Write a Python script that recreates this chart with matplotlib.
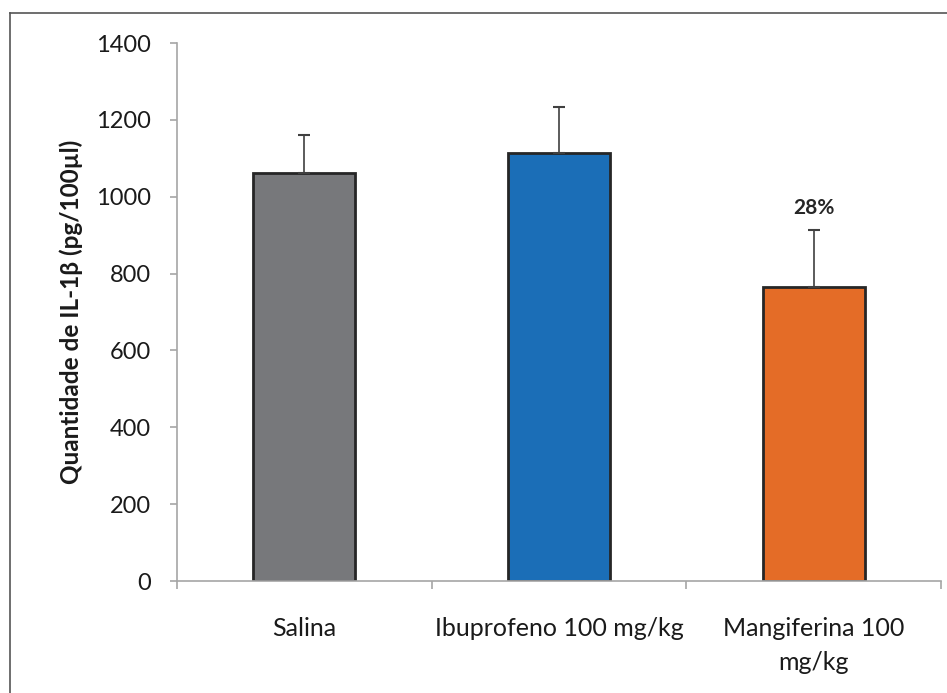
import matplotlib
matplotlib.use("Agg")
import matplotlib.pyplot as plt
from matplotlib.lines import Line2D

categories = ["Salina", "Ibuprofeno 100 mg/kg", "Mangiferina 100\nmg/kg"]
values = [1062, 1115, 764]
errors = [99, 118, 149]
colors = ["#77787b", "#1b6eb7", "#e46c27"]
annotations = ["", "", "28%"]
annot_y = [None, None, 970]
yticks = [0, 200, 400, 600, 800, 1000, 1200, 1400]

plt.rcParams['font.family'] = ['Lato', 'DejaVu Sans']

fig = plt.figure(figsize=(9.47, 6.93), dpi=100)
ax = fig.add_axes([177/947, 1-581/693, (941-177)/947, (581-43)/693])

x = list(range(len(categories)))
ax.bar(x, values, width=0.4, color=colors, edgecolor="#262626", linewidth=2, zorder=2)
ax.errorbar(x, values, yerr=[[0]*len(values), errors], fmt="none",
            ecolor="#404040", elinewidth=1.2, capsize=4, capthick=1.5, zorder=3)
for xi, t, ty in zip(x, annotations, annot_y):
    if t:
        ax.text(xi, ty, t, ha="center", va="center", fontsize=15,
                fontweight="bold", color="#262626")

ax.set_xlim(-0.5, len(categories)-0.5)
ax.set_ylim(0, 1400)
ax.set_yticks(yticks)
ax.set_yticklabels([str(v) for v in yticks], fontsize=17, color="#1a1a1a")
ax.set_xticks(x)
ax.set_xticklabels(categories, fontsize=18, color="#1a1a1a", linespacing=1.55)
ax.tick_params(axis="x", which="major", length=0, pad=26)
ax.set_xticks([-0.5, 0.5, 1.5, 2.5], minor=True)
ax.tick_params(axis="x", which="minor", length=6, color="#a6a6a6", width=1.2)
ax.tick_params(axis="y", length=5, color="#a6a6a6", width=1.2, pad=14)

for s in ["top", "right"]:
    ax.spines[s].set_visible(False)
for s in ["left", "bottom"]:
    ax.spines[s].set_color("#a6a6a6")
    ax.spines[s].set_linewidth(1.2)

ax.set_ylabel("Quantidade de IL-1β (pg/100µl)", fontsize=17.5, fontweight="bold",
              color="#1a1a1a", labelpad=9)

# outer frame
fig.add_artist(Line2D([10/947, 10/947], [0, 1-13/693], transform=fig.transFigure,
                      color="#555555", linewidth=1.2))
fig.add_artist(Line2D([10/947, 1], [1-13/693, 1-13/693], transform=fig.transFigure,
                      color="#555555", linewidth=1.2))

fig.savefig("out.png", dpi=100)
